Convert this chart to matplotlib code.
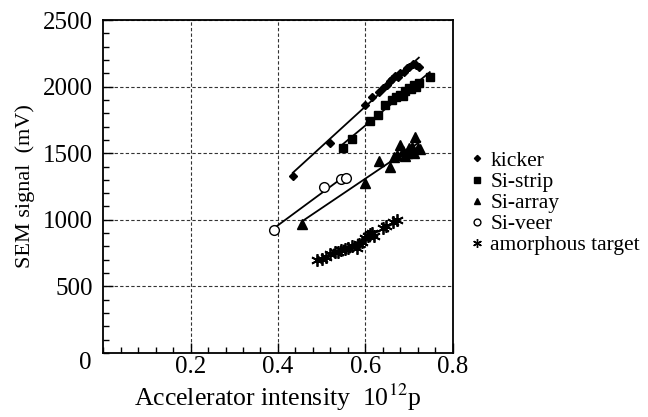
import numpy as np
import matplotlib
matplotlib.use("Agg")
import matplotlib.pyplot as plt
from matplotlib.ticker import MultipleLocator

plt.rcParams['font.family'] = ['Liberation Serif', 'DejaVu Serif']
plt.rcParams['mathtext.fontset'] = 'stix'

# data (x in 1e12 p, y in mV)
kicker_x = [0.434, 0.52, 0.598, 0.615, 0.63, 0.64, 0.65, 0.655, 0.66, 0.668, 0.675,
            0.68, 0.688, 0.695, 0.70, 0.708, 0.715, 0.722]
kicker_y = [1330, 1580, 1865, 1920, 1960, 1990, 2010, 2040, 2060, 2080, 2070,
            2100, 2110, 2140, 2150, 2170, 2160, 2150]

strip_x = [0.548, 0.57, 0.61, 0.628, 0.644, 0.66, 0.67, 0.678, 0.685, 0.69,
           0.70, 0.705, 0.71, 0.715, 0.722, 0.747]
strip_y = [1540, 1605, 1740, 1790, 1860, 1900, 1920, 1940, 1930, 1970,
           1990, 1980, 2010, 2000, 2030, 2075]

array_x = [0.455, 0.598, 0.632, 0.655, 0.665, 0.672, 0.68, 0.685, 0.69, 0.694,
           0.70, 0.706, 0.71, 0.713, 0.72, 0.725]
array_y = [970, 1280, 1440, 1400, 1470, 1490, 1560, 1520, 1480, 1505,
           1540, 1545, 1500, 1620, 1540, 1530]

veer_x = [0.39, 0.505, 0.543, 0.556]
veer_y = [925, 1245, 1305, 1315]

amorph_x = [0.49, 0.50, 0.51, 0.52, 0.53, 0.537, 0.545, 0.553, 0.56, 0.57,
            0.58, 0.586, 0.592, 0.60, 0.605, 0.61, 0.615, 0.62, 0.64, 0.648,
            0.662, 0.672]
amorph_y = [700, 705, 720, 740, 755, 760, 775, 780, 790, 805,
            790, 815, 830, 860, 875, 890, 900, 880, 935, 955,
            985, 1000]

series = [
    ("kicker", kicker_x, kicker_y, dict(marker='D', ms=4.5, mfc='black')),
    ("Si-strip", strip_x, strip_y, dict(marker='s', ms=5.5, mfc='black')),
    ("Si-array", array_x, array_y, dict(marker='^', ms=6.5, mfc='black')),
    ("Si-veer", veer_x, veer_y, dict(marker='o', ms=7, mfc='white')),
    ("amorphous target", amorph_x, amorph_y, dict(marker=(6, 2, 0), ms=9, mfc='black', mew=1.3)),
]

fig = plt.figure(figsize=(6.48, 4.17), dpi=100)
ax = fig.add_axes([0.159, 0.1535, 0.54, 0.7985])

handles = []
for name, xs, ys, st in series:
    xs = np.array(xs); ys = np.array(ys)
    k, b = np.polyfit(xs, ys, 1)
    xl = np.array([xs.min(), xs.max()])
    ax.plot(xl, k * xl + b, color='black', lw=1.3, zorder=2)
    ax.plot(xs, ys, ls='none', color='black', mec='black', zorder=3, **st)
    small = dict(st)
    small['ms'] = st['ms'] * 0.7
    if 'mew' in small:
        small['mew'] = 1.0
    h, = ax.plot([], [], ls='none', color='black', mec='black', label=name, **small)
    handles.append(h)

ax.set_xlim(0, 0.8)
ax.set_ylim(0, 2500)
ax.set_xticks([0.2, 0.4, 0.6, 0.8])
ax.set_xticklabels(['0.2', '0.4', '0.6', '0.8'])
ax.set_yticks([500, 1000, 1500, 2000, 2500])
ax.xaxis.set_minor_locator(MultipleLocator(0.04))
ax.yaxis.set_minor_locator(MultipleLocator(100))
ax.tick_params(which='both', direction='in', top=False, right=False, labelsize=18, width=1)
ax.tick_params(which='major', length=7, pad=2)
ax.tick_params(axis='y', which='major', pad=7)
ax.tick_params(which='minor', length=4)
ax.grid(True, which='major', ls=(0, (3, 2)), color='#333333', lw=0.8)
for sp in ax.spines.values():
    sp.set_linewidth(1.3)

# shared origin label
ax.text(-0.04, -0.03 * 2500, '0', fontsize=18, ha='center', va='center', clip_on=False)

ax.set_ylabel('SEM signal  (mV)', fontsize=16, labelpad=6)
ax.set_xlabel('Accelerator intensity  10$^{12}$p', fontsize=18.5, labelpad=3)

ax.legend(handles=handles, loc='center left', bbox_to_anchor=(1.03, 0.45), frameon=False,
          fontsize=15.5, handlelength=0.5, handletextpad=0.35, labelspacing=0.05,
          borderaxespad=0)

fig.savefig('out.png', dpi=100)
